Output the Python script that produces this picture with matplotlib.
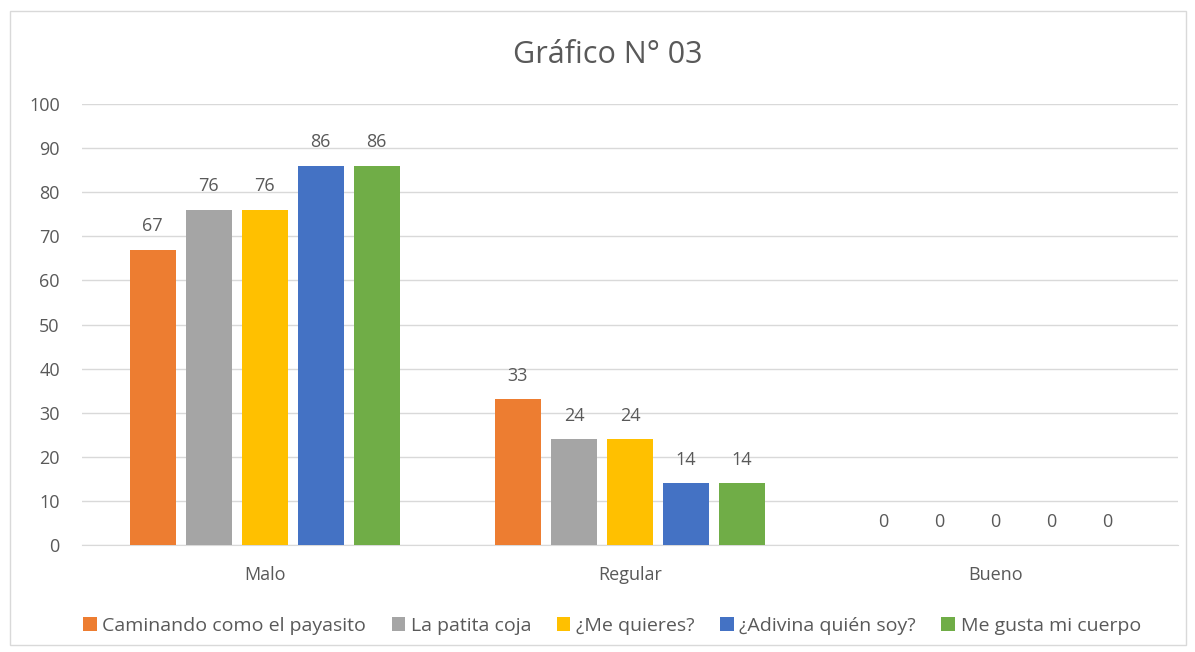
import numpy as np
import matplotlib.pyplot as plt
from matplotlib.patches import Rectangle

plt.rcParams['font.family'] = ['Open Sans', 'DejaVu Sans']

categories = ['Malo', 'Regular', 'Bueno']
series = ['Caminando como el payasito', 'La patita coja', '¿Me quieres?',
          '¿Adivina quién soy?', 'Me gusta mi cuerpo']
values = [
    [67, 33, 0],
    [76, 24, 0],
    [76, 24, 0],
    [86, 14, 0],
    [86, 14, 0],
]
colors = ['#ED7D31', '#A5A5A5', '#FFC000', '#4472C4', '#70AD47']
txt = '#595959'

fig = plt.figure(figsize=(11.95, 6.52), dpi=100)
fig.patches.append(Rectangle((10 / 1195, 7 / 652), 1176 / 1195, 634 / 652,
                             transform=fig.transFigure, fill=False,
                             edgecolor='#D9D9D9', linewidth=1))
ax = fig.add_axes([82 / 1195, 1 - 545 / 652, 1096 / 1195, 441 / 652])

x = np.arange(len(categories))
step = 56 / 365
width = 46 / 365
for i, (name, vals) in enumerate(zip(series, values)):
    pos = x + (i - 2) * step
    bars = ax.bar(pos, vals, width, color=colors[i], label=name, zorder=3)
    for b, v in zip(bars, vals):
        ax.text(b.get_x() + b.get_width() / 2, v + 5.3, str(v), ha='center',
                va='center', fontsize=13, color=txt)

ax.set_xlim(-0.5, 2.5)
ax.set_ylim(0, 100)
ax.set_yticks(range(0, 101, 10))
ax.set_xticks(x)
ax.set_xticklabels(categories)
ax.grid(axis='y', color='#D9D9D9', linewidth=1, zorder=0)
for s in ['top', 'right', 'left']:
    ax.spines[s].set_visible(False)
ax.spines['bottom'].set_color('#D9D9D9')
ax.tick_params(axis='both', length=0, labelsize=13, colors=txt)
ax.tick_params(axis='y', pad=16)
ax.tick_params(axis='x', pad=15)

fig.text(608 / 1195, 1 - 55 / 652, 'Gráfico N° 03', ha='center', va='center',
         fontsize=22, color=txt)

fig.legend(loc='center', bbox_to_anchor=(612 / 1195, 1 - 626 / 652), ncol=5,
           frameon=False, fontsize=14, labelcolor=txt, handlelength=0.7,
           handleheight=0.7, handletextpad=0.3, columnspacing=1.3)

fig.savefig('out.png', dpi=100)
